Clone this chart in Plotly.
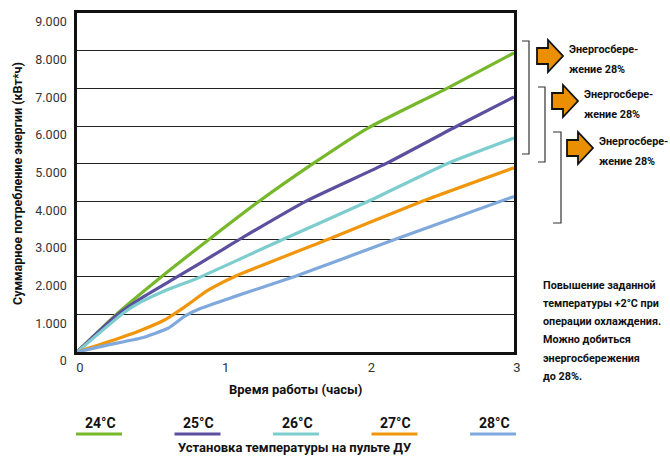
import plotly.graph_objects as go

# ---- data ----
series_names = ["24°C", "25°C", "26°C", "27°C", "28°C"]
series_colors = ["#76b82a", "#5b4f9f", "#7dcdcf", "#f0960c", "#7fa8dd"]

t24 = [0, 0.27, 0.58, 0.91, 1.25, 1.62, 2.0, 2.54, 3.0]
e24 = [0, 1000, 2000, 3000, 4000, 5000, 5950, 7000, 7940]
t25 = [0, 0.28, 0.45, 0.69, 1.0, 1.12, 1.57, 2.12, 2.61, 3.0]
e25 = [0, 1000, 1450, 2000, 2720, 3000, 4000, 5000, 6000, 6770]
t26 = [0, 0.33, 0.44, 0.6, 0.84, 1.08, 1.42, 2.0, 2.54, 3.0]
e26 = [0, 1070, 1330, 1620, 1980, 2400, 3000, 4000, 5000, 5680]
t27 = [0, 0.215, 0.44, 0.60, 0.74, 0.90, 1.08, 1.73, 2.37, 3.0]
e27 = [0, 270, 580, 850, 1200, 1640, 2000, 3000, 4000, 4890]
t28 = [0, 0.215, 0.44, 0.625, 0.74, 0.85, 1.08, 1.49, 2.19, 3.0]
e28 = [0, 190, 370, 630, 950, 1160, 1470, 2000, 3000, 4130]

x_ticks = [0, 1, 2, 3]
x_ticktext = ["0", "1", "2", "3"]
y_ticks = [0, 1000, 2000, 3000, 4000, 5000, 6000, 7000, 8000, 9000]
y_ticktext = ["0", "1.000", "2.000", "3.000", "4.000", "5.000", "6.000", "7.000", "8.000", "9.000"]

x_title = "Время работы (часы)"
y_title = "Суммарное потребление энергии (кВт*ч)"
legend_title = "Установка температуры на пульте ДУ"
saving_text = ["Энергосбере-", "жение 28%"]
note_lines = ["Повышение заданной", "температуры +2°C при", "операции охлаждения.",
              "Можно добиться", "энергосбережения", "до 28%."]

FONT = "Roboto, Liberation Sans, sans-serif"

W, H = 670, 456
L, R, T, B = 77, 156, 13, 104
PW, PH = W - L - R, H - T - B


def px(x):
    return (x - L) / PW


def py(y):
    return (H - B - y) / PH


fig = go.Figure()
all_t = [t24, t25, t26, t27, t28]
all_e = [e24, e25, e26, e27, e28]
for name, col, t, e in zip(series_names, series_colors, all_t, all_e):
    fig.add_trace(go.Scatter(x=t, y=e, mode="lines", name=name,
                             line=dict(color=col, width=3.2, shape="spline", smoothing=0.5),
                             showlegend=False))

shapes = []
annotations = []

# legend entries under the axis
leg_x0 = 76
leg_step = 98.5
for i, (name, col) in enumerate(zip(series_names, series_colors)):
    x0 = leg_x0 + i * leg_step
    shapes.append(dict(type="line", xref="paper", yref="paper",
                       x0=px(x0), x1=px(x0 + 46), y0=py(434), y1=py(434),
                       line=dict(color=col, width=3)))
    annotations.append(dict(xref="paper", yref="paper", x=px(x0 + 24), y=py(423),
                            text="<b>" + name + "</b>", showarrow=False,
                            xanchor="center", yanchor="middle",
                            font=dict(family=FONT, size=14, color="#111")))

annotations.append(dict(xref="paper", yref="paper", x=px(295), y=py(389),
                        text="<b>" + x_title + "</b>", showarrow=False,
                        xanchor="center", yanchor="middle",
                        font=dict(family=FONT, size=13, color="#111")))
annotations.append(dict(xref="paper", yref="paper", x=px(295), y=py(447),
                        text="<b>" + legend_title + "</b>", showarrow=False,
                        xanchor="center", yanchor="middle",
                        font=dict(family=FONT, size=13, color="#111")))
annotations.append(dict(xref="paper", yref="paper", x=px(17), y=py(184),
                        text="<b>" + y_title + "</b>", showarrow=False, textangle=-90,
                        xanchor="center", yanchor="middle",
                        font=dict(family=FONT, size=12.5, color="#111")))

# brackets, arrows and saving labels
brackets = [(529, 522, 41, 154), (545, 538, 87, 162), (561, 553, 132, 223)]
for xv, xl, y0, y1 in brackets:
    path = (f"M {px(xl)},{py(y0)} L {px(xv)},{py(y0)} L {px(xv)},{py(y1)} "
            f"L {px(xl)},{py(y1)}")
    shapes.append(dict(type="path", xref="paper", yref="paper", path=path,
                       line=dict(color="#333", width=1.2)))

arrow_offsets = [(0, 0), (15, 45), (30, 92)]
for dx, dy in arrow_offsets:
    pts = [(537, 48), (548, 48), (548, 40), (563, 56), (548, 72), (548, 64), (537, 64)]
    path = "M " + " L ".join(f"{px(a + dx)},{py(b + dy)}" for a, b in pts) + " Z"
    shapes.append(dict(type="path", xref="paper", yref="paper", path=path,
                       fillcolor="#ea9000", line=dict(color="#111", width=1.8)))
    for j, line in enumerate(saving_text):
        annotations.append(dict(xref="paper", yref="paper", x=px(567 + dx), y=py(49 + dy + j * 20),
                                text="<b>" + line + "</b>", showarrow=False,
                                xanchor="left", yanchor="middle",
                                font=dict(family=FONT, size=10.8, color="#111")))

for j, line in enumerate(note_lines):
    annotations.append(dict(xref="paper", yref="paper", x=px(541), y=py(285 + j * 18.3),
                            text="<b>" + line + "</b>", showarrow=False,
                            xanchor="left", yanchor="middle",
                            font=dict(family=FONT, size=10.8, color="#111")))

fig.update_layout(
    width=W, height=H,
    margin=dict(l=L, r=R, t=T, b=B, pad=0),
    paper_bgcolor="white", plot_bgcolor="white",
    shapes=shapes, annotations=annotations,
    font=dict(family=FONT, color="#333"),
    xaxis=dict(range=[0, 3], tickvals=x_ticks, ticktext=x_ticktext, automargin=False,
               showgrid=False, zeroline=False,
               showline=True, linecolor="#111", linewidth=2.6, mirror=True,
               ticks="", ticklabelstandoff=2, ticklabelshift=3,
               tickfont=dict(family=FONT, size=13, color="#333")),
    yaxis=dict(range=[0, 9000], tickvals=y_ticks, ticktext=y_ticktext, automargin=False,
               showgrid=True, gridcolor="#222", gridwidth=1.1, zeroline=False,
               showline=True, linecolor="#111", linewidth=2.6, mirror=True,
               ticks="", ticklabelstandoff=5, ticklabelshift=9,
               tickfont=dict(family=FONT, size=12.5, color="#333")),
)

fig.write_html("out.html", config={"displayModeBar": False},
               post_script="document.body.style.margin='0';document.body.style.padding='0';")
